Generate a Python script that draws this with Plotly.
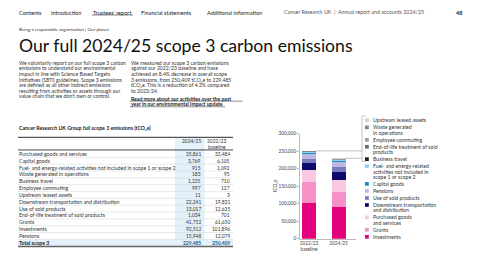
import plotly.graph_objects as go

W, H = 480, 270
FONT = "Lato"

# ---------------- data ----------------
categories = [
    "Purchased goods and services",
    "Capital goods",
    "Fuel- and energy-related activities not included in scope 1 or scope 2",
    "Waste generated in operations",
    "Business travel",
    "Employee commuting",
    "Upstream leased assets",
    "Downstream transportation and distribution",
    "Use of sold products",
    "End-of-life treatment of sold products",
    "Grants",
    "Investments",
    "Pensions",
]
values_2024_25 = [35861, 3769, 915, 183, 1225, 997, 11, 22241, 13017, 1034, 41752, 92512, 15948]
values_2022_23 = [33484, 6105, 1092, 95, 710, 127, 3, 19831, 12635, 701, 61650, 101896, 12079]
totals = [229485, 250409]           # 2024/25, 2022/23 as printed
years = ["2022/23<br>baseline", "2024/25"]

stack_order = [
    "Investments", "Grants", "Purchased goods and services",
    "Downstream transportation and distribution", "Use of sold products",
    "Pensions", "Capital goods",
    "Fuel- and energy-related activities not included in scope 1 or scope 2",
    "Business travel", "End-of-life treatment of sold products",
    "Employee commuting", "Waste generated in operations", "Upstream leased assets",
]
stack_colors = [
    "#e5007d", "#f591c8", "#f9c9e2", "#0c0a6b", "#7b79be", "#bdb9e4", "#1b8cc6",
    "#92d2f0", "#1e1e1e", "#6e6e6e", "#9d9d9d", "#858585", "#d2d2d2",
]
legend_lines = {
    "Upstream leased assets": ["Upstream leased assets"],
    "Waste generated in operations": ["Waste generated", "in operations"],
    "Employee commuting": ["Employee commuting"],
    "End-of-life treatment of sold products": ["End-of-life treatment of sold", "products"],
    "Business travel": ["Business travel"],
    "Fuel- and energy-related activities not included in scope 1 or scope 2":
        ["Fuel- and energy-related", "activities not included in", "scope 1 or scope 2"],
    "Capital goods": ["Capital goods"],
    "Pensions": ["Pensions"],
    "Use of sold products": ["Use of sold products"],
    "Downstream transportation and distribution": ["Downstream transportation", "and distribution"],
    "Purchased goods and services": ["Purchased goods", "and services"],
    "Grants": ["Grants"],
    "Investments": ["Investments"],
}
y_ticks = [0, 50000, 100000, 150000, 200000, 250000, 300000]

left_par = [
    "We voluntarily report on our full scope 3 carbon",
    "emissions to understand our environmental",
    "impact in line with Science Based Targets",
    "initiatives (SBTi) guidelines. Scope 3 emissions",
    "are defined as all other indirect emissions",
    "resulting from activities or assets through our",
    "value chain that we don't own or control.",
]
right_par = [
    "We measured our scope 3 carbon emissions",
    "against our 2022/23 baseline and have",
    "achieved an 8.4% decrease in overall scope",
    "3 emissions, from 250,409 tCO₂e to 229,485",
    "tCO₂e. This is a reduction of 4.3% compared",
    "to 2023/24.",
]
read_more = [
    "Read more about our activities over the past",
    "year in our environmental impact update",
]

# ---------------- helpers ----------------
annotations = []
shapes = []


def X(x):
    return x / W


def Y(y):
    return 1 - y / H


def ann(x, y, text, size, color="#333333", xanchor="left", yanchor="middle", textangle=0):
    annotations.append(dict(
        x=X(x), y=Y(y), xref="paper", yref="paper", text=text, showarrow=False,
        xanchor=xanchor, yanchor=yanchor,
        font=dict(size=size, color=color, family=FONT), borderpad=0, textangle=textangle))


def rect(x0, y0, x1, y1, fill):
    shapes.append(dict(type="rect", xref="paper", yref="paper", x0=X(x0), x1=X(x1),
                       y0=Y(y1), y1=Y(y0), fillcolor=fill, line=dict(width=0), layer="below"))


def line(x0, y0, x1, y1, color, width):
    shapes.append(dict(type="line", xref="paper", yref="paper", x0=X(x0), x1=X(x1),
                       y0=Y(y0), y1=Y(y1), line=dict(color=color, width=width)))


# ---------------- header ----------------
nav = [("Contents", 18), ("Introduction", 50), ("Trustees' report", 92),
       ("Financial statements", 140), ("Additional information", 206)]
for t, x in nav:
    ann(x, 9.3, t, 5.6, "#222222")
line(92, 12.3, 133, 12.3, "#222222", 0.5)
ann(283, 9.3, "Cancer Research UK  |  Annual report and accounts 2024/25", 5.3, "#555555")
ann(455, 9.3, "<b>48</b>", 5.6, "#222222")
ann(18, 26.7, "Being a responsible organisation | Our planet", 4.6, "#333333")
ann(18, 43, "Our full 2024/25 scope 3 carbon emissions", 17.6, "#111111")

LS = 5.75
for i, t in enumerate(left_par):
    ann(18, 61 + i * LS, t, 5.1, "#333333")
for i, t in enumerate(right_par):
    ann(130, 61 + i * LS, t, 5.1, "#333333")
for i, t in enumerate(read_more):
    ann(130, 97.7 + i * LS, "<b>" + t + "</b>", 5.1, "#222222")
line(130, 100.4, 242.5, 100.4, "#222222", 0.5)
line(130, 106.1, 225, 106.1, "#222222", 0.5)

# ---------------- table ----------------
TL, TR = 18, 233
ann(18, 128, "<b>Cancer Research UK Group full scope 3 emissions (tCO₂e)</b>", 5.2, "#222222")
row0, dy = 154.3, 7.0
n_rows = len(categories) + 1
bottom = row0 + (n_rows - 1) * dy + 3.8
rect(175, 137.5, 204.5, bottom, "#e4f1fa")
rect(TL, row0 + (n_rows - 1) * dy - 3.4, TR, bottom, "#e4f1fa")
line(TL, 137.5, TR, 137.5, "#555555", 1.3)
line(TL, 150.3, TR, 150.3, "#444444", 1.0)
ann(201.5, 141.5, "2024/25", 4.9, "#333333", xanchor="right")
ann(227, 141.5, "2022/23", 4.9, "#333333", xanchor="right")
ann(227, 147, "baseline", 4.9, "#333333", xanchor="right")
for i, cat in enumerate(categories):
    y = row0 + i * dy
    ann(TL, y, cat, 5.2, "#333333")
    ann(201.5, y, f"{values_2024_25[i]:,}", 4.9, "#333333", xanchor="right")
    ann(230.5, y, f"{values_2022_23[i]:,}", 4.9, "#333333", xanchor="right")
    line(TL, y + 3.5, TR, y + 3.5, "#d4d4d4", 0.5)
yt = row0 + (n_rows - 1) * dy
ann(TL, yt, "<b>Total scope 3</b>", 5.2, "#222222")
ann(201.5, yt, f"<b>{totals[0]:,}</b>", 4.9, "#1b5e8c", xanchor="right")
ann(230.5, yt, f"<b>{totals[1]:,}</b>", 4.9, "#1b5e8c", xanchor="right")
line(TL, bottom, TR, bottom, "#666666", 1.6)

# ---------------- chart ----------------
PX0, PX1 = 300, 356          # plot area pixels
PY0, PY1 = 133.5, 241        # top (300k), bottom (0)
CAT0, CAT_STEP = 309, 29.5   # pixel centre of first category and spacing
xr0 = -(CAT0 - PX0) / CAT_STEP
xr1 = xr0 + (PX1 - PX0) / CAT_STEP

fig = go.Figure()
for name, col in zip(stack_order, stack_colors):
    idx = categories.index(name)
    fig.add_trace(go.Bar(
        x=years, y=[values_2022_23[idx], values_2024_25[idx]], name=name,
        marker=dict(color=col, line=dict(width=0)), width=14 / CAT_STEP, showlegend=False))

ann(274.5, 187, "tCO₂e", 4.8, "#444444", xanchor="center", textangle=-90)

# legend (manual, wrapped like the reference)
LH, GAP = 5.45, 1.75
y = 120
for name in reversed(stack_order):
    col = stack_colors[stack_order.index(name)]
    rect(365, y - 1.9, 368.8, y + 1.9, col)
    for k, t in enumerate(legend_lines[name]):
        ann(372, y + k * LH, t, 5.2, "#333333")
    y += len(legend_lines[name]) * LH + GAP

# bracket for the small categories and leader lines
line(362, 115.5, 362, 162, "#9a9a9a", 0.6)
line(362, 115.5, 365.5, 115.5, "#9a9a9a", 0.6)
line(362, 162, 365.5, 162, "#9a9a9a", 0.6)


def ypix(v):
    return PY1 - v / 300000 * (PY1 - PY0)


sum22 = sum(values_2022_23)
sum24 = sum(values_2024_25)
line(CAT0 + 7, ypix(sum22), 362, ypix(sum22), "#9a9a9a", 0.6)
line(CAT0 + CAT_STEP + 7, ypix(sum24), 362, ypix(sum24), "#9a9a9a", 0.6)

fig.update_layout(
    barmode="stack",
    width=W, height=H,
    margin=dict(l=0, r=0, t=0, b=0),
    paper_bgcolor="white", plot_bgcolor="white",
    font=dict(family=FONT, color="#333333"),
    showlegend=False,
    annotations=annotations,
    shapes=shapes,
    bargap=0,
    xaxis=dict(domain=[X(PX0), X(PX1)], range=[xr0, xr1], type="category",
               showgrid=False, showline=True, linecolor="#bbbbbb", linewidth=0.6,
               ticks="", tickfont=dict(size=4.7, color="#444444"), fixedrange=True),
    yaxis=dict(domain=[Y(PY1), Y(PY0)], range=[0, 300000], tickvals=y_ticks,
               tickformat=",", showgrid=False, showline=True, linecolor="#bbbbbb",
               linewidth=0.6, ticks="outside", ticklen=2, tickcolor="#bbbbbb",
               tickfont=dict(size=4.8, color="#444444"), zeroline=False, fixedrange=True),
)

fig.write_html("out.html")
